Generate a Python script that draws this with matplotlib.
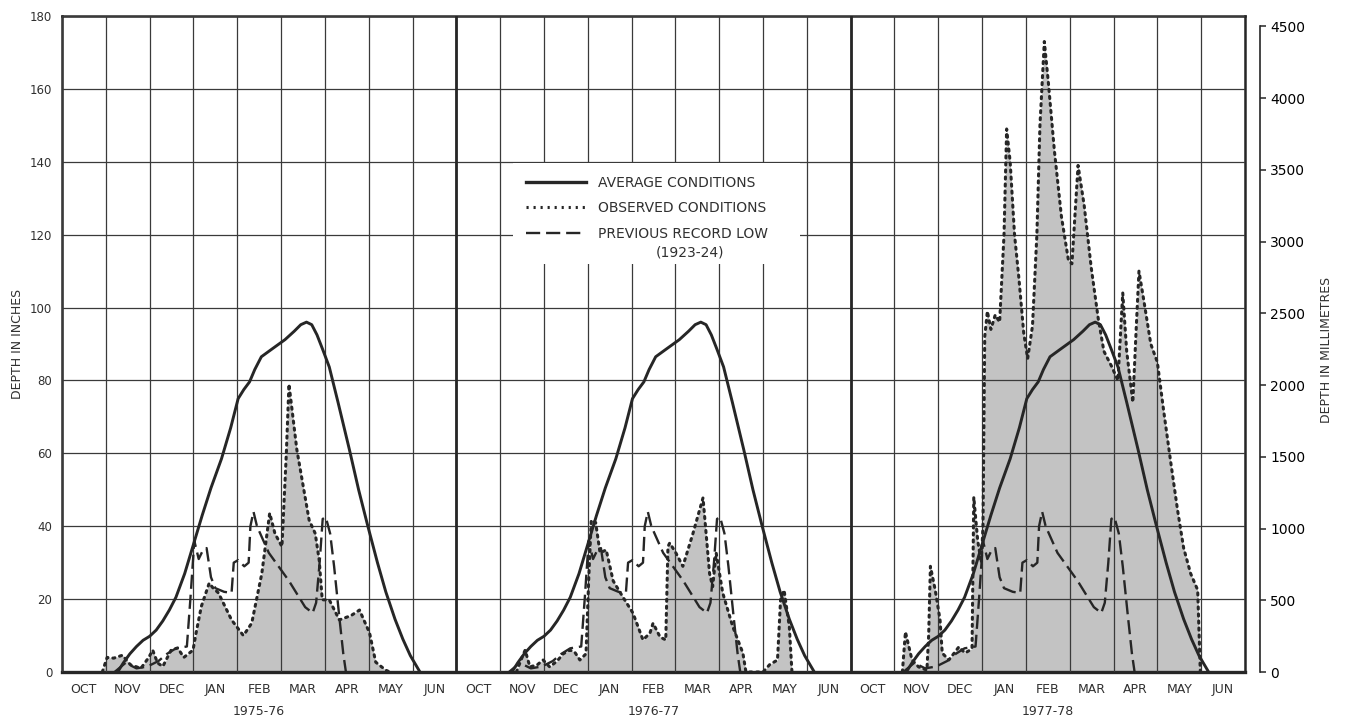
import matplotlib
matplotlib.use("Agg")
import matplotlib.pyplot as plt
import matplotlib.transforms as mtransforms
from matplotlib.lines import Line2D
from matplotlib.patches import Rectangle
import numpy as np

plt.rcParams['font.family'] = ['DejaVu Sans']

# ---------------- data ----------------
months = ['OCT', 'NOV', 'DEC', 'JAN', 'FEB', 'MAR', 'APR', 'MAY', 'JUN']
seasons = ['1975-76', '1976-77', '1977-78']

# month offset from 1 October, depth in inches
avg_month = [1.27, 1.4, 1.55, 1.7, 1.85, 2.0, 2.15, 2.3, 2.45, 2.6, 2.8, 3.0,
             3.2, 3.4, 3.64, 3.85, 4.02, 4.15, 4.28, 4.4, 4.55, 4.79, 5.09,
             5.3, 5.45, 5.58, 5.7, 5.82, 5.95, 6.1, 6.3, 6.56, 6.77, 6.97,
             7.2, 7.39, 7.6, 7.78, 7.95, 8.17]
avg_depth = [0, 2.5, 5, 7, 8.7, 9.8, 11.5, 14, 17, 20.5, 27, 35,
             43, 50.5, 58.5, 67, 75, 77.5, 79.6, 83, 86.5, 88.6, 91.2,
             93.5, 95.3, 96, 95.3, 92.5, 88.5, 83.7, 74, 61, 50, 40.5,
             30, 22, 14.5, 9, 4.5, 0]

low_month = [1.2, 1.45, 1.7, 1.95, 2.2, 2.4, 2.6, 2.85, 2.93, 3.02, 3.12, 3.22,
             3.3, 3.4, 3.5, 3.7, 3.87, 3.92, 4.02, 4.16, 4.26, 4.3, 4.37, 4.45,
             4.72, 5.18, 5.55, 5.72, 5.8, 5.88, 5.95, 6.02, 6.12, 6.21, 6.33,
             6.42, 6.48]
low_depth = [0, 2.5, 1, 1.5, 3, 5, 6.5, 7, 20, 36, 31, 33.5,
             34, 26, 23, 22, 21.7, 30, 30.7, 29, 30, 40, 44, 40,
             32.7, 25, 17.8, 16.2, 19, 30, 42, 42.5, 38, 29, 15,
             5, 0]

obs1_month = [0.92, 1.03, 1.18, 1.38, 1.56, 1.8, 1.98, 2.07, 2.18, 2.3, 2.49,
              2.64, 2.78, 2.99, 3.06, 3.18, 3.36, 3.45, 3.57, 3.87, 4.14, 4.33,
              4.56, 4.74, 4.86, 5.02, 5.12, 5.18, 5.36, 5.64, 5.78, 5.87, 5.94,
              6.1, 6.33, 6.6, 6.79, 7.02, 7.16, 7.39, 7.48]
obs1_depth = [0, 4, 3.8, 4.6, 2, 1, 4, 6, 2.5, 1.5, 6,
              6.6, 4, 6, 10.7, 18, 24.4, 23, 21.7, 14.3, 10, 13.4,
              27, 43.6, 38, 34.4, 60, 79, 61, 41.7, 38, 30.7, 19.8,
              19.8, 14.3, 15.5, 17, 10.7, 2.7, 0.5, 0]

obs2_month = [1.37, 1.5, 1.57, 1.68, 1.85, 1.98, 2.13, 2.3, 2.44, 2.59, 2.7,
              2.82, 2.96, 3.02, 3.08, 3.18, 3.28, 3.42, 3.58, 3.8, 4.03, 4.26,
              4.42, 4.49, 4.65, 4.78, 4.83, 4.87, 5.01, 5.17, 5.4, 5.63, 5.78,
              5.85, 5.93, 6.08, 6.31, 6.54, 6.61, 7.0, 7.15, 7.33, 7.4, 7.48,
              7.6, 7.66]
obs2_depth = [0, 4, 6, 1.4, 2, 3.3, 1.4, 3, 5, 6, 5.5,
              3.3, 5, 25, 41.7, 41, 32.7, 33.5, 25, 20.6, 16.2, 8.8,
              10.7, 13.4, 9.6, 8.8, 34.4, 35.4, 32.7, 29, 38, 47.8, 27,
              23.4, 32.7, 21.7, 12.4, 5.2, 0, 0, 2, 3.3, 19.8, 22.5,
              12.4, 0]

obs3_month = [1.18, 1.25, 1.4, 1.55, 1.74, 1.78, 1.82, 1.93, 2.04, 2.09, 2.24,
              2.35, 2.47, 2.61, 2.72, 2.77, 2.81, 2.9, 2.98, 3.02, 3.06, 3.12,
              3.2, 3.3, 3.4, 3.5, 3.56, 3.64, 3.74, 3.84, 3.95, 4.04, 4.15,
              4.25, 4.32, 4.42, 4.51, 4.65, 4.81, 4.97, 5.05, 5.19, 5.33, 5.49,
              5.65, 5.78, 5.95, 6.1, 6.21, 6.3, 6.44, 6.52, 6.58, 6.69, 6.85,
              7.0, 7.14, 7.3, 7.46, 7.6, 7.76, 7.92, 7.98]
obs3_depth = [0, 11, 3.3, 1.4, 0.5, 10, 29, 22.5, 14.3, 5.2, 3.3,
              5, 6.9, 5.2, 6, 6.5, 48, 36, 30, 40, 92, 99,
              94, 98, 96, 120, 149, 140, 120, 108, 93, 86, 95,
              120, 150, 173, 162, 143, 125, 113, 112, 139, 128, 111,
              97, 88, 84, 80, 104, 88, 74, 95, 110, 102, 90,
              85, 72, 58, 44.5, 34, 27, 22.5, 0]

obs_months = [obs1_month, obs2_month, obs3_month]
obs_depths = [obs1_depth, obs2_depth, obs3_depth]

yticks_in = list(range(0, 181, 20))
yticks_mm = list(range(0, 4501, 500))
MM_PER_IN = 25.4

# ---------------- figure ----------------
W, H = 1346, 719
fig = plt.figure(figsize=(W / 100, H / 100), dpi=100)
ax = fig.add_axes([62 / W, 47 / H, (1245 - 62) / W, (672 - 16) / H])

ink = '#262626'
txt = '#303030'
fill_c = '#c3c3c3'
dot_ls = (0, (0.7, 1.6))
dash_ls = (0, (6, 2.5))
n_months = len(months)
n_seasons = len(seasons)

for p in range(n_seasons):
    off = p * n_months
    xo = [off + m for m in obs_months[p]]
    ax.fill_between(xo, obs_depths[p], 0, color=fill_c, lw=0, zorder=1)
    ax.plot(xo, obs_depths[p], color=ink, lw=2.2, ls=dot_ls,
            dash_capstyle='round', zorder=3)
    ax.plot([off + m for m in low_month], low_depth, color=ink, lw=1.7,
            ls=dash_ls, zorder=3)
    ax.plot([off + m for m in avg_month], avg_depth, color=ink, lw=2.1,
            solid_joinstyle='round', zorder=4)

ax.set_xlim(0, n_months * n_seasons)
ax.set_ylim(0, 180)

# grid
ax.set_xticks(np.arange(0, n_months * n_seasons + 1))
ax.set_xticks(np.arange(n_months * n_seasons) + 0.5, minor=True)
ax.set_xticklabels([])
ax.set_xticklabels(months * n_seasons, minor=True, fontsize=9, color=txt)
ax.tick_params(axis='x', which='both', length=0)
ax.tick_params(axis='x', which='minor', pad=8)
ax.set_yticks(yticks_in)
ax.set_yticklabels([str(v) for v in yticks_in], fontsize=8.5, color=txt)
ax.tick_params(axis='y', length=0, pad=7)
ax.grid(True, which='major', color='#3a3a3a', lw=0.9)
ax.set_axisbelow(False)
for p in range(1, n_seasons):
    ax.axvline(p * n_months, color=ink, lw=2.0, zorder=2.6)
for s in ax.spines.values():
    s.set_linewidth(1.8)
    s.set_color(ink)
ax.spines['bottom'].set_linewidth(2.4)

# season labels
trans = mtransforms.blended_transform_factory(ax.transData, ax.transAxes)
for p, s in enumerate(seasons):
    ax.text(p * n_months + n_months / 2, -0.0595, s, transform=trans,
            ha='center', va='center', fontsize=9, color=txt)

# right axis (millimetres)
ax2 = ax.twinx()
ax2.set_ylim(0, 180 * MM_PER_IN)
ax2.set_yticks(yticks_mm)
ax2.set_yticklabels([str(v) for v in yticks_mm], fontsize=8.5, color=txt)
for k in ['top', 'bottom', 'left']:
    ax2.spines[k].set_visible(False)
ax2.spines['right'].set_position(('outward', 11))
ax2.spines['right'].set_bounds(0, 4500)
ax2.spines['right'].set_linewidth(1.2)
ax2.spines['right'].set_color(ink)
ax2.tick_params(axis='y', direction='out', length=4, width=1.1, pad=3, color=ink)

fig.text(18 / W, 1 - 344 / H, 'DEPTH IN INCHES', rotation=90, ha='center',
         va='center', fontsize=9, color=txt)
fig.text(1326 / W, 1 - 350 / H, 'DEPTH IN MILLIMETRES', rotation=90,
         ha='center', va='center', fontsize=9, color=txt)

# white block behind the legend (grid is interrupted there)
ax.add_patch(Rectangle((513 / W, 1 - 264 / H), (800 - 513) / W, (264 - 163) / H,
                       transform=fig.transFigure, facecolor='white',
                       edgecolor='none', zorder=4.5, clip_on=False))

# legend
handles = [Line2D([], [], color=ink, lw=2.4),
           Line2D([], [], color=ink, lw=2.2, ls=dot_ls),
           Line2D([], [], color=ink, lw=1.7, ls=dash_ls)]
labels = ['AVERAGE CONDITIONS', 'OBSERVED CONDITIONS', 'PREVIOUS RECORD LOW']
leg = ax.legend(handles, labels, loc='upper left',
                bbox_to_anchor=(514 / W, 1 - 164 / H),
                bbox_transform=fig.transFigure, frameon=False,
                fontsize=10, handlelength=4.3, handletextpad=0.9,
                labelspacing=0.82, borderpad=0.85, borderaxespad=0)
leg.set_zorder(5)
for t in leg.get_texts():
    t.set_color(txt)
ax.text(690 / W, 1 - 253 / H, '(1923-24)', transform=fig.transFigure,
        ha='center', va='center', fontsize=10, color=txt, zorder=6)

fig.savefig('out.png', dpi=100)
